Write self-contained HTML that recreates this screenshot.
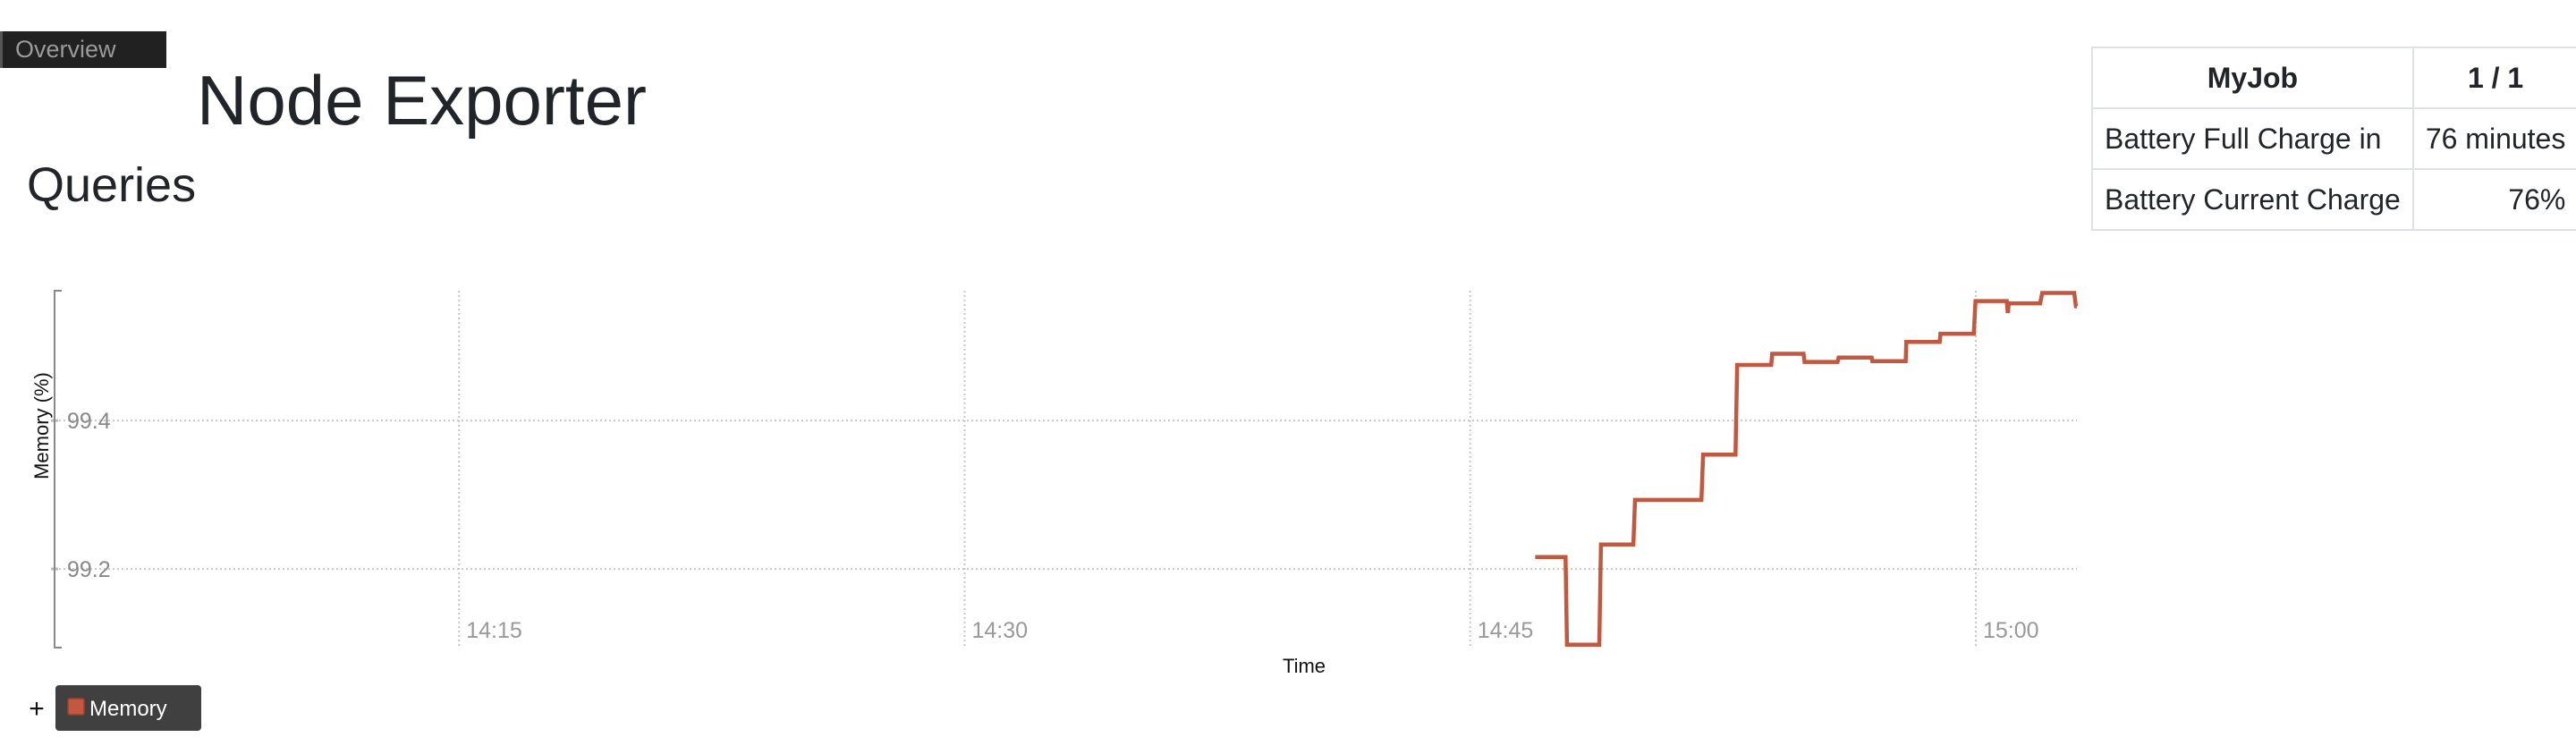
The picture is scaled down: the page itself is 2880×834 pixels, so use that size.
<!DOCTYPE html>
<html><head><meta charset="utf-8">
<style>
html,body{margin:0;padding:0;width:2880px;height:834px;background:#fff;overflow:hidden;font-family:"Liberation Sans",Arial,sans-serif;}
#tab{position:absolute;left:0;top:35px;width:186px;height:41px;background:#212121;color:#9a9a9a;font-size:27px;line-height:41px;padding-left:14px;box-sizing:border-box;border-left:3px solid #555;}
#title{position:absolute;left:220px;top:62px;font-size:78px;color:#212529;line-height:100px;white-space:nowrap;}
#queries{position:absolute;left:30px;top:172px;font-size:54px;color:#212529;line-height:70px;}
table{position:absolute;left:2338px;top:52px;border-collapse:collapse;font-size:32px;color:#212529;}
td,th{border:2px solid #dee2e6;padding:0 13px;height:66px;white-space:nowrap;}
th{font-weight:bold;text-align:center;}
td.v{text-align:right;}
svg{position:absolute;left:0;top:0;}
</style></head><body>
<div id="tab">Overview</div>
<div id="title">Node Exporter</div>
<div id="queries">Queries</div>
<table>
<tr><th style="width:334px">MyJob</th><th style="width:156px">1 / 1</th></tr>
<tr><td>Battery Full Charge in</td><td class="v">76 minutes</td></tr>
<tr><td>Battery Current Charge</td><td class="v">76%</td></tr>
</table>
<svg id="chart" width="2880" height="834"></svg>
<script>
// minutes after 14:00
const times = [46.93,47.83,47.87,48.83,48.88,49.84,49.89,51.86,51.91,52.87,52.92,53.93,53.96,54.89,54.92,55.90,55.93,56.91,56.93,57.92,57.94,58.93,58.95,59.94,59.99,60.92,60.95,60.98,61.91,61.97,62.92,62.97,63.0];
const memory = [99.216,99.216,99.098,99.098,99.233,99.233,99.293,99.293,99.354,99.354,99.475,99.475,99.490,99.490,99.479,99.479,99.485,99.485,99.480,99.480,99.506,99.506,99.517,99.517,99.561,99.561,99.545,99.558,99.558,99.572,99.572,99.554,99.554];
const yTicks = [99.2, 99.4];
const xTickMinutes = [15, 30, 45, 60];
const xTickLabels = ["14:15","14:30","14:45","15:00"];
const xDomain = [3.0, 63.0];
const yDomain = [99.094, 99.575];

const L=61, R=2322, T=325, B=724;
const xS = t => L + (t - xDomain[0]) / (xDomain[1] - xDomain[0]) * (R - L);
const yS = v => B - (v - yDomain[0]) / (yDomain[1] - yDomain[0]) * (B - T);
const svg = document.getElementById('chart');
const NS = 'http://www.w3.org/2000/svg';
function mk(tag, attrs, parent){const e=document.createElementNS(NS,tag);for(const k in attrs)e.setAttribute(k,attrs[k]);(parent||svg).appendChild(e);return e;}

yTicks.forEach((v,i)=>{
  const g = mk('line',{x1:L,x2:R,y1:yS(v),y2:yS(v),stroke:'#c8c8c8','stroke-width':2,'stroke-dasharray':'2,3'});
  
  
  const tk = mk('line',{x1:L-4,x2:L+4,y1:yS(v),y2:yS(v),stroke:'#bbb','stroke-width':3});
  
  
  const t = mk('text',{x:L+14,y:yS(v)+9,'font-size':25,fill:'#888','font-family':'Liberation Sans, sans-serif'});
  t.textContent = v.toFixed(1);
  
  
});
xTickMinutes.forEach((m,i)=>{
  const g = mk('line',{x1:xS(m),x2:xS(m),y1:T,y2:B,stroke:'#c8c8c8','stroke-width':2,'stroke-dasharray':'2,3'});
  
  
  const t = mk('text',{x:xS(m)+8,y:713,'font-size':25,fill:'#999','font-family':'Liberation Sans, sans-serif'});
  t.textContent = xTickLabels[i];
  
  
});
const ax = mk('path',{d:`M${L+8},${T} H${L} V${B} H${L+8}`,fill:'none',stroke:'#888','stroke-width':2});


const yl = mk('text',{x:0,y:0,'font-size':22,fill:'#111','text-anchor':'middle',transform:'translate(54,476) rotate(-90)','font-family':'Liberation Sans, sans-serif'});
yl.textContent='Memory (%)';


const xl = mk('text',{x:1458,y:752,'font-size':22,fill:'#111','text-anchor':'middle','font-family':'Liberation Sans, sans-serif'});
xl.textContent='Time';


const pts = times.map((t,i)=>xS(t).toFixed(1)+','+yS(memory[i]).toFixed(1)).join(' ');
const line = mk('polyline',{points:pts,fill:'none',stroke:'#c1583f','stroke-width':4.5,'stroke-linejoin':'miter'});



// legend
const plus = mk('text',{x:41,y:802,'font-size':30,fill:'#111','text-anchor':'middle','font-family':'Liberation Sans, sans-serif'});
plus.textContent='+';


const lg = mk('g',{});


mk('rect',{x:62,y:766,width:163,height:51,rx:4,fill:'#404040'},lg);
mk('rect',{x:76,y:781,width:18,height:18,rx:2,fill:'#c1583f',stroke:'#9e3f2a','stroke-width':1.5},lg);
const lt = mk('text',{x:100,y:800,'font-size':24,fill:'#fff','font-family':'Liberation Sans, sans-serif'},lg);
lt.textContent='Memory';
</script>
</body></html>
